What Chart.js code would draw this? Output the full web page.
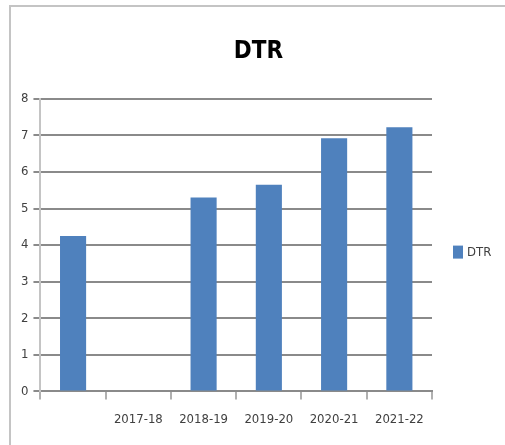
<!DOCTYPE html>
<html>
<head>
<meta charset="utf-8">
<script src="https://cdn.jsdelivr.net/npm/chart.js@4/dist/chart.umd.min.js"></script>
<style>
  html, body { margin: 0; padding: 0; background: #fff; }
  #wrap { width: 505px; height: 445px; position: relative; }
</style>
</head>
<body>
<div id="wrap"><canvas id="chart" width="505" height="445"></canvas></div>
<script>
const categories = ['', '2017-18', '2018-19', '2019-20', '2020-21', '2021-22'];
const dtrValues = [4.25, null, 5.3, 5.65, 6.92, 7.22];
const yTicks = [0, 1, 2, 3, 4, 5, 6, 7, 8];

const fontFamily = '"Liberation Sans Narrow", "DejaVu Sans Condensed", "Liberation Sans", sans-serif';

// light grey frame around the chart like the original sheet object
const framePlugin = {
	id: 'frame',
	beforeDraw(chart) {
		const ctx = chart.ctx;
		ctx.save();
		ctx.strokeStyle = '#c4c4c4';
		ctx.lineWidth = 2;
		ctx.beginPath();
		ctx.moveTo(10, chart.height + 5);
		ctx.lineTo(10, 6);
		ctx.lineTo(chart.width + 5, 6);
		ctx.stroke();
		ctx.restore();
	}
};

// legend to the right of the plot, drawn from the dataset itself
const sideLegend = {
	id: 'sideLegend',
	afterDraw(chart) {
		const ctx = chart.ctx;
		const area = chart.chartArea;
		const mid = (area.top + area.bottom) / 2 + 7;
		const x = area.right + 21;
		ctx.save();
		chart.data.datasets.forEach((ds) => {
			ctx.fillStyle = ds.backgroundColor;
			ctx.fillRect(x, mid - 6.5, 10, 13);
			ctx.fillStyle = '#404040';
			ctx.font = '13px ' + fontFamily;
			ctx.textBaseline = 'middle';
			ctx.fillText(ds.label, x + 14, mid + 1);
		});
		ctx.restore();
	}
};

new Chart(document.getElementById('chart'), {
	type: 'bar',
	data: {
		labels: categories,
		datasets: [{
			label: 'DTR',
			data: dtrValues,
			backgroundColor: '#4f81bd',
			borderWidth: 0,
			barPercentage: 0.4,
			categoryPercentage: 1
		}]
	},
	plugins: [framePlugin, sideLegend],
	options: {
		responsive: false,
		animation: false,
		layout: {
			padding: { left: 16, right: 4, top: 4, bottom: 6 }
		},
		plugins: {
			title: {
				display: true,
				text: 'DTR',
				color: '#000',
				font: { family: fontFamily, size: 24, weight: 'bold' },
				padding: { top: 33, bottom: 33 }
			},
			legend: { display: false },
			tooltip: { enabled: false }
		},
		scales: {
			x: {
				offset: true,
				grid: {
					offset: true,
					drawOnChartArea: false,
					color: '#b0b0b0',
					lineWidth: 2,
					tickLength: 8
				},
				border: { display: true, color: '#8a8a8a', width: 2 },
				ticks: {
					color: '#404040',
					padding: 12,
					maxRotation: 0,
					autoSkip: false,
					font: { family: fontFamily, size: 13 }
				}
			},
			y: {
				min: 0,
				max: 8,
				afterBuildTicks(axis) {
					axis.ticks = yTicks.map(v => ({ value: v }));
				},
				grid: {
					color: '#8a8a8a',
					lineWidth: 2,
					tickLength: 7
				},
				border: { display: true, color: '#c4c4c4', width: 2 },
				ticks: {
					color: '#404040',
					padding: 5,
					font: { family: fontFamily, size: 13 }
				}
			},
			// empty right-hand axis that only keeps room for the legend
			legendRoom: {
				type: 'linear',
				position: 'right',
				grid: { display: false },
				border: { display: false },
				ticks: { display: false },
				afterFit(scale) {
					scale.width = 69;
				}
			}
		}
	}
});
</script>
</body>
</html>
